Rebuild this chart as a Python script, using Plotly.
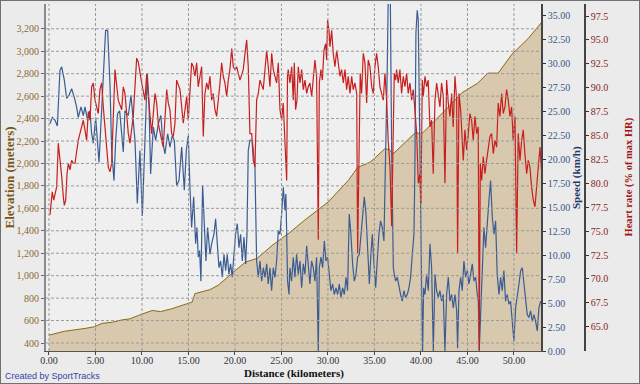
import plotly.graph_objects as go

# ---------------- data ----------------
elev_km = [0, 1.7, 3.9, 4.9, 5.7, 6.8, 7.8, 8.7, 9.6, 11.1, 12.0, 13.2, 14.3, 15.4, 15.7, 17.3,
           18.2, 19.7, 21.1, 22.4, 24.0, 25.9, 27.5, 30.0, 32.2, 33.2, 34.5, 35.0, 36.1, 36.6,
           37.0, 39.4, 40.1, 43.1, 44.4, 46.1, 47.2, 48.3, 49.8, 51.5, 52.95]
elev_m = [470, 505, 530, 545, 575, 585, 605, 615, 645, 690, 680, 705, 735, 765, 840, 875,
          915, 1020, 1120, 1155, 1270, 1385, 1495, 1655, 1850, 1965, 2010, 2045, 2130, 2125,
          2085, 2275, 2265, 2515, 2630, 2715, 2805, 2805, 2975, 3110, 3255]

speed_km = [
    0.1, 0.36, 0.65, 0.9, 1.18, 1.36, 1.65, 1.9, 2.15, 2.44, 2.72, 2.97, 3.15, 3.44, 3.69, 3.87,
    4.16, 4.4, 4.59, 4.77, 5.02, 5.2, 5.38, 5.66, 5.88, 6.09, 6.31, 6.56, 6.74, 6.99, 7.17, 7.38,
    7.6, 7.81, 7.99, 8.17, 8.53,
    8.82, 9.25, 9.5, 9.78, 10.04, 10.32, 10.57, 10.75, 10.93, 11.22, 11.47, 11.76, 12.04, 12.22,
    12.47, 12.76, 13.01, 13.26, 13.48, 13.73, 13.98, 14.27, 14.55, 14.77, 14.98, 15.16, 15.34,
    15.56, 15.77, 15.91, 16.06, 16.2, 16.34, 16.52, 16.7, 16.88, 17.06, 17.31,
    17.49, 17.74, 17.92, 18.1, 18.28, 18.46, 18.64, 18.82, 19.0, 19.17, 19.35, 19.53, 19.71,
    19.89, 20.07, 20.25, 20.43, 20.61, 20.79, 20.97, 21.15, 21.29, 21.43, 21.61, 21.86, 22.15,
    22.33, 22.51, 22.69, 22.87, 23.05, 23.23, 23.41, 23.58, 23.76, 23.94, 24.12, 24.3, 24.48,
    24.66, 24.84, 25.02, 25.2, 25.38, 25.48, 25.66, 25.81,
    25.91, 26.09, 26.27, 26.45, 26.63, 26.81, 26.99, 27.17, 27.35, 27.53, 27.71, 27.89, 28.06,
    28.24, 28.42, 28.6, 28.78, 28.96, 29.07, 29.25, 29.43, 29.61, 29.78, 29.96, 30.14, 30.32,
    30.5, 30.68, 30.86, 31.04, 31.22, 31.4, 31.58, 31.76, 31.94, 32.11, 32.29, 32.47, 32.65,
    32.83, 33.01, 33.19, 33.37, 33.55, 33.73, 33.91, 34.09, 34.27, 34.45,
    34.62, 34.77, 34.95, 35.13, 35.3, 35.48, 35.66, 35.84, 36.02, 36.2, 36.38, 36.49, 36.7,
    36.85, 37.03, 37.14, 37.28, 37.46, 37.63, 37.81, 37.99, 38.17, 38.35, 38.53, 38.71, 38.89,
    39.07, 39.25, 39.35, 39.46, 39.6, 39.71, 39.82, 39.93, 40.07, 40.18, 40.29, 40.43, 40.61,
    40.79, 40.97, 41.15, 41.33, 41.51, 41.69, 41.86, 42.04, 42.22, 42.4, 42.58, 42.76, 42.94,
    43.12, 43.3, 43.48, 43.66, 43.84, 43.94, 44.09, 44.27, 44.44, 44.62, 44.8, 44.98, 45.16,
    45.34, 45.52, 45.7, 45.88, 46.06, 46.17, 46.27, 46.45, 46.6, 46.77, 46.95, 47.13, 47.31,
    47.49, 47.67, 47.85, 48.03, 48.2, 48.39, 48.57, 48.74, 48.92, 49.1, 49.28, 49.46, 49.64,
    49.82, 50.0, 50.18, 50.36, 50.54, 50.72, 50.9, 51.08, 51.26, 51.43, 51.61, 51.8, 51.97,
    52.15, 52.33, 52.51, 52.69, 52.87]
speed_kmh = [
    23.75, 24.4, 24.1, 23.5, 29.3, 29.7, 28.3, 26.4, 26.7, 27.4, 26.5, 25.5, 24.4, 25.5, 24.6, 25.5,
    24.1, 25.1, 22.7, 21.7, 24.4, 22.0, 19.7, 25.1, 30.0, 33.5, 33.5, 27.9, 20.95, 17.8, 22.0, 24.8,
    25.1, 22.7, 20.8, 25.1, 24.6,
    26.7, 22.0, 15.4, 20.95, 14.1, 22.7, 29.0, 26.2, 18.5, 23.4, 22.0, 23.75, 24.6, 22.0,
    20.6, 22.7, 21.3, 22.5, 22.0, 17.3, 17.8, 21.3, 16.8, 20.95, 22.5, 17.1, 12.9,
    16.1, 11.2, 12.9, 9.8, 10.5, 7.3, 17.3, 12.6, 9.4, 12.9, 10.1,
    11.2, 12.2, 13.8, 11.5, 8.7, 9.4, 7.7, 10.1, 8.4, 10.1, 8.0, 9.1, 7.7,
    10.1, 12.2, 13.3, 10.8, 12.2, 9.4, 11.9, 9.1, 12.2, 20.95, 22.0, 22.0, 19.2,
    9.4, 7.7, 9.4, 7.3, 8.7, 7.7, 9.1, 7.0, 8.7, 6.3, 8.7, 7.7, 9.4,
    12.6, 12.2, 14.3, 17.1, 14.7, 16.4, 7.3, 5.9,
    8.7, 7.3, 9.8, 7.7, 10.1, 8.0, 9.4, 6.6, 9.1, 8.0, 11.0, 8.7, 7.0,
    9.4, 8.7, 7.3, 9.8, 0.0, 8.7, 9.8, 8.7, 11.5, 9.4, 9.8, 7.7, 6.3,
    7.0, 5.9, 6.6, 5.9, 7.0, 5.6, 6.6, 5.9, 7.7, 6.3, 14.3, 12.2, 9.1,
    7.3, 8.0, 9.8, 10.1, 12.2, 14.3, 16.1, 14.3, 10.1, 7.0,
    10.1, 12.2, 9.1, 6.6, 9.4, 12.2, 13.6, 12.9, 11.5, 19.2, 29.7, 37.5, 37.5,
    21.0, 8.7, 8.0, 7.3, 7.7, 6.6, 5.9, 5.2, 6.3, 5.6, 5.9, 6.6, 7.7,
    10.1, 12.2, 19.2, 33.2, 35.6, 34.6, 26.2, 15.7, 7.0, 0.0, 6.6, 5.9, 8.0,
    6.3, 11.2, 8.7, 0.0, 8.0, 6.3, 5.6, 6.3, 5.2, 5.9, 0.0, 5.9, 7.7,
    5.2, 5.9, 4.5, 5.9, 4.2, 0.3, 6.3, 7.7, 6.3, 9.4, 7.7, 8.4, 7.0,
    8.0, 9.1, 7.3, 7.7, 5.9, 5.2, 0.0, 5.2, 10.1, 12.9, 10.8, 13.6, 15.7,
    17.8, 14.0, 12.2, 13.6, 8.0, 5.9, 7.7, 6.3, 8.4, 5.2, 5.9, 4.9, 5.2,
    3.1, 1.0, 4.5, 5.6, 7.0, 8.4, 8.7, 7.0, 5.2, 3.8, 3.5, 4.2, 3.1,
    3.8, 3.1, 2.1, 4.5, 5.2]

hr_km = [
    0.11, 0.22, 0.35, 0.51, 0.65, 0.83, 1.0, 1.18, 1.37, 1.54,
    1.65, 1.8, 1.94, 2.08, 2.26, 2.44, 2.61, 2.8, 2.98, 3.15,
    3.33, 3.52, 3.69, 3.87, 4.05, 4.23, 4.41, 4.59, 4.76, 4.95,
    5.3, 5.48, 5.67, 5.84, 6.2, 6.38, 6.56, 6.74, 7.1, 7.45,
    7.82, 7.99, 8.17, 8.53, 8.71, 9.06, 9.43, 9.6, 9.97, 10.32,
    10.51, 10.68, 11.04, 11.22, 11.4, 11.58, 11.75, 12.12, 12.29, 12.66,
    12.83, 13.01, 13.19, 13.37, 13.55, 13.73, 14.09, 14.44, 14.81, 14.98,
    15.34, 15.52, 15.7, 15.88, 16.05, 16.24, 16.42, 16.59, 16.77, 16.96,
    17.13, 17.31, 17.49, 17.67, 17.85, 18.03, 18.2, 18.39, 18.57, 18.74,
    18.92, 19.11, 19.28, 19.46, 19.65, 19.82, 20.0, 20.18, 20.54, 20.89,
    21.08, 21.26, 21.43, 21.61, 21.8, 21.97, 22.15, 22.33, 22.51, 22.69,
    23.04, 23.23, 23.41, 23.58, 23.76, 23.95, 24.12, 24.48, 24.66, 24.84,
    25.02, 25.19, 25.38, 25.56, 25.65, 25.73, 25.91, 26.1, 26.27, 26.38,
    26.52, 26.67, 26.81, 26.99, 27.17, 27.35, 27.53, 27.71, 27.88, 28.06,
    28.25, 28.42, 28.6, 28.78, 28.96, 29.07, 29.25, 29.4, 29.57, 29.75,
    29.86, 29.96, 30.11, 30.22, 30.4, 30.57, 30.75, 30.94, 31.11, 31.29,
    31.47, 31.65, 31.83, 32.01, 32.18, 32.37, 32.55, 32.72, 32.9, 33.09,
    33.19, 33.33, 33.47, 33.62, 33.8, 33.98, 34.16, 34.33, 34.52, 34.7,
    34.87, 35.05, 35.23, 35.41, 35.59, 35.77, 35.95, 36.13, 36.31, 36.48,
    36.67, 36.85, 37.02, 37.13, 37.28, 37.38, 37.56, 37.74, 37.92, 38.1,
    38.28, 38.46, 38.63, 38.82, 39.0, 39.17, 39.35, 39.54, 39.71, 39.89,
    40.0, 40.14, 40.25, 40.43, 40.61, 40.78, 40.97, 41.15, 41.32, 41.51,
    41.69, 41.86, 42.04, 42.22, 42.4, 42.58, 42.76, 42.94, 43.12, 43.3,
    43.47, 43.66, 43.84, 43.94, 44.09, 44.27, 44.44, 44.55, 44.73, 44.91,
    45.09, 45.27, 45.45, 45.62, 45.81, 45.99, 46.16, 46.27, 46.38, 46.53,
    46.7, 46.88, 47.06, 47.24, 47.42, 47.6, 47.78, 47.96, 48.14, 48.31,
    48.49, 48.68, 48.85, 49.03, 49.21, 49.39, 49.57, 49.75, 49.92, 50.11,
    50.29, 50.46, 50.65, 50.83, 51.0, 51.18, 51.37, 51.54, 51.72, 51.9,
    52.08, 52.26, 52.44, 52.61, 52.8, 52.96]
hr_pct = [
    76.7, 78.25, 79.1, 78.25, 79.0, 79.65, 84.2, 82.8, 80.7, 78.6,
    77.7, 78.25, 81.0, 82.1, 81.4, 82.4, 82.1, 82.1, 83.5, 84.5,
    85.2, 85.9, 86.6, 85.6, 84.5, 87.5, 86.6, 90.1, 90.5, 88.7,
    87.3, 89.8, 90.5, 88.0, 83.8, 81.7, 81.2, 82.1, 91.9, 88.7,
    87.7, 90.1, 89.4, 85.2, 84.2, 87.0, 93.1, 92.7, 90.5, 88.7,
    91.5, 89.1, 85.2, 87.0, 89.4, 88.4, 86.3, 84.5, 83.8, 89.8,
    88.4, 87.7, 85.2, 84.9, 86.3, 90.8, 89.8, 86.3, 89.1, 86.6,
    92.6, 92.2, 91.2, 92.6, 90.1, 91.2, 92.2, 84.9, 89.4, 90.5,
    89.8, 91.2, 88.7, 89.4, 87.7, 87.0, 89.1, 90.5, 92.6, 91.2,
    90.5, 89.1, 90.8, 91.9, 94.1, 92.2, 91.9, 92.2, 90.8, 91.9,
    93.6, 95.0, 92.2, 85.2, 85.2, 82.4, 81.7, 88.7, 89.4, 90.8,
    89.8, 92.2, 93.9, 92.2, 90.1, 93.6, 91.9, 90.5, 92.6, 87.7,
    86.6, 88.4, 84.5, 80.3, 91.2, 91.9, 90.5, 92.2, 88.7, 92.6,
    87.7, 88.7, 92.2, 90.5, 91.9, 89.8, 90.8, 89.4, 90.1, 90.5,
    89.1, 91.5, 92.9, 91.2, 74.1, 90.5, 91.9, 90.8, 93.9, 94.6,
    92.9, 97.1, 96.0, 94.3, 96.0, 93.6, 92.2, 93.9, 92.6, 91.2,
    91.9, 90.5, 91.9, 89.8, 91.2, 89.4, 91.2, 89.8, 90.5, 89.4,
    72.7, 81.0, 91.5, 89.4, 93.6, 92.6, 88.4, 92.9, 92.2, 90.1,
    89.4, 92.2, 93.6, 92.2, 90.1, 89.4, 88.7, 91.5, 88.7, 84.5,
    81.7, 75.5, 88.7, 91.5, 90.8, 91.9, 90.5, 91.9, 89.4, 91.2,
    90.1, 91.5, 89.4, 90.5, 88.7, 89.8, 87.7, 85.2, 80.0, 81.0,
    77.9, 90.8, 89.1, 91.2, 90.1, 90.8, 85.9, 86.6, 81.0, 88.7,
    90.5, 89.4, 88.0, 90.5, 89.1, 80.0, 90.8, 88.4, 87.0, 89.4,
    85.9, 91.2, 88.7, 72.7, 89.4, 87.7, 84.5, 82.4, 85.6, 83.5,
    85.2, 87.3, 86.6, 84.5, 87.0, 85.2, 85.9, 62.6, 82.1, 80.3,
    82.8, 81.0, 82.4, 83.5, 84.9, 85.2, 83.1, 84.5, 83.8, 88.4,
    87.0, 89.4, 87.3, 88.0, 89.8, 88.7, 87.0, 88.0, 84.5, 87.0,
    72.7, 85.2, 82.4, 84.5, 85.6, 83.1, 81.0, 82.4, 81.7, 79.6,
    78.25, 77.55, 79.6, 82.4, 83.8, 81.4]

dist_ticks = [0, 5, 10, 15, 20, 25, 30, 35, 40, 45, 50]
elev_ticks = list(range(400, 3201, 200))
speed_ticks = [0, 2.5, 5, 7.5, 10, 12.5, 15, 17.5, 20, 22.5, 25, 27.5, 30, 32.5, 35]
hr_ticks = [65, 67.5, 70, 72.5, 75, 77.5, 80, 82.5, 85, 87.5, 90, 92.5, 95, 97.5]

# ---------------- layout geometry ----------------
W, H = 640, 384
ML, MR, MT, MB = 46, 10, 4, 33
PW, PH = W - ML - MR, H - MT - MB
XDOM = 495 / PW
HR_POS = (585 - ML) / PW

SERIF = "Liberation Serif"
BROWN_T, BROWN = "#8a6a30", "#7a5812"
BLUE_T, BLUE = "#3a5888", "#1e3a6c"
RED_T, RED = "#8b2222", "#a01515"

fig = go.Figure()
fig.add_trace(go.Scatter(x=elev_km, y=elev_m, mode="lines", fill="tozeroy",
                         line=dict(color="#8b6914", width=1), fillcolor="#d8c9ae",
                         yaxis="y", hoverinfo="skip"))
n = min(len(speed_km), len(speed_kmh))
fig.add_trace(go.Scatter(x=speed_km[:n], y=speed_kmh[:n], mode="lines",
                         line=dict(color="#3b5c93", width=1.2), yaxis="y2", hoverinfo="skip"))
n = min(len(hr_km), len(hr_pct))
fig.add_trace(go.Scatter(x=hr_km[:n], y=hr_pct[:n], mode="lines",
                         line=dict(color="#c81e1e", width=1.2), yaxis="y3", hoverinfo="skip"))

shapes = []
for v in dist_ticks:
    shapes.append(dict(type="line", xref="x", yref="y domain", x0=v, x1=v, y0=0, y1=1,
                       layer="above", line=dict(color="#9a9a9a", width=1, dash="3px,2px")))
for v in elev_ticks:
    shapes.append(dict(type="line", xref="x domain", yref="y", x0=0, x1=1, y0=v, y1=v,
                       layer="above", line=dict(color="#9a9a9a", width=1, dash="3px,2px")))
shapes.append(dict(type="rect", xref="paper", yref="paper",
                   x0=-ML / PW, x1=(W - ML) / PW, y0=-MB / PH, y1=(H - MB) / PH,
                   layer="above", line=dict(color="#707070", width=2)))

annotations = [
    dict(text="<b>Elevation (meters)</b>", xref="paper", yref="paper", x=(9 - ML) / PW, y=0.5,
         textangle=-90, showarrow=False, xanchor="center", yanchor="middle",
         font=dict(family=SERIF, size=13, color=BROWN)),
    dict(text="<b>Speed (km/h)</b>", xref="paper", yref="paper", x=(576.5 - ML) / PW, y=0.5,
         textangle=-90, showarrow=False, xanchor="center", yanchor="middle",
         font=dict(family=SERIF, size=11, color=BLUE)),
    dict(text="<b>Heart rate (% of max HR)</b>", xref="paper", yref="paper", x=(628 - ML) / PW,
         y=0.5, textangle=-90, showarrow=False, xanchor="center", yanchor="middle",
         font=dict(family=SERIF, size=10.5, color=RED)),
    dict(text="<b>Distance (kilometers)</b>", xref="paper", yref="paper",
         x=(293.5 - ML) / PW, y=-(373 - (H - MB)) / PH, showarrow=False,
         xanchor="center", yanchor="middle", font=dict(family=SERIF, size=11, color="#111")),
    dict(text="Created by SportTracks", xref="paper", yref="paper", x=(3 - ML) / PW,
         y=-(376 - (H - MB)) / PH, showarrow=False, xanchor="left", yanchor="middle",
         font=dict(family="Liberation Sans", size=9, color="#3344aa")),
]

fig.update_layout(
    width=W, height=H, margin=dict(l=ML, r=MR, t=MT, b=MB, autoexpand=False),
    paper_bgcolor="#ebebeb", plot_bgcolor="#efefef", showlegend=False,
    xaxis=dict(domain=[0, XDOM], range=[-0.32, 52.91], tickvals=dist_ticks, tickformat=".2f",
               showgrid=False, zeroline=False, ticks="outside", ticklen=3, tickcolor="#444",
               ticklabelstandoff=-3,
               showline=True, linecolor="#555", linewidth=1, tickfont=dict(family=SERIF, size=10, color="#333")),
    yaxis=dict(range=[328.7, 3421], tickvals=elev_ticks, tickformat=",d", showgrid=False,
               zeroline=False, ticks="outside", ticklen=3, tickcolor="#666", showline=True,
               linecolor="#8a8a8a", linewidth=2, tickfont=dict(family=SERIF, size=10, color=BROWN_T)),
    yaxis2=dict(range=[0, 36.25], tickvals=speed_ticks, tickformat=".2f", overlaying="y",
                side="right", anchor="x", showgrid=False, zeroline=False, ticks="outside",
                ticklen=3, tickcolor="#333", showline=True, linecolor="#444", linewidth=1.5,
                tickfont=dict(family=SERIF, size=10, color=BLUE_T)),
    yaxis3=dict(range=[62.46, 98.76], tickvals=hr_ticks, tickformat=".1f", ticksuffix=" %",
                overlaying="y", side="right", anchor="free", position=HR_POS, showgrid=False,
                zeroline=False, ticks="outside", ticklen=3, tickcolor="#333", showline=True,
                linecolor="#444", linewidth=1.5, tickfont=dict(family=SERIF, size=10, color=RED_T)),
    shapes=shapes, annotations=annotations, hovermode=False,
)

fig.write_html("out.html", config={"displayModeBar": False},
               post_script="document.body.style.margin='0';document.body.style.overflow='hidden';")
